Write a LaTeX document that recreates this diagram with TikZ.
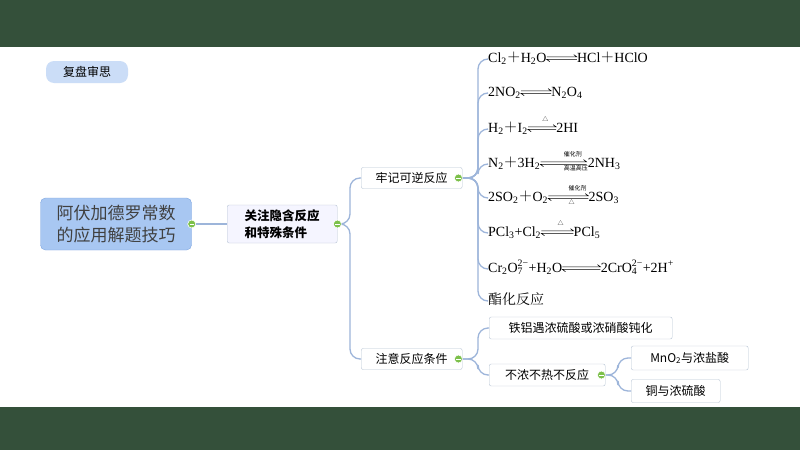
\documentclass[tikz,border=0pt]{standalone}
\usepackage{fontspec}
\setmainfont{Liberation Serif}
\newfontfamily\cjk{Noto Sans CJK SC}
\newfontfamily\cjks{Noto Serif CJK SC}
\usetikzlibrary{calc}
\definecolor{band}{HTML}{34503A}
\definecolor{link}{HTML}{9DB5DA}
\definecolor{rootf}{HTML}{A8C7F2}
\definecolor{rootd}{HTML}{7FA6E0}
\definecolor{boxd}{HTML}{B8C4D4}
\definecolor{minus}{HTML}{7CC04A}
\newcommand\rv[3]{\tikz[baseline=-0.6ex,x=1pt,y=1pt,line width=0.6pt]{%
\draw (0,1.3)--(#1,1.3)--++(-3,2.2);
\draw (#1,-1.3)--(0,-1.3)--++(3,-2.2);
\path (#1/2,7) node[font=\cjk\fontsize{6}{6}\selectfont,inner sep=0]{#2};
\path (#1/2,-7) node[font=\cjk\fontsize{6}{6}\selectfont,inner sep=0]{#3};}}
\newcommand\sub[1]{\textsubscript{#1}}
\newcommand\supb[1]{\textsuperscript{#1}}
\newcommand\pl{{\cjks ＋}}
\newcommand\subsup[2]{\rlap{\textsubscript{#1}}\textsuperscript{#2}}
\begin{document}
\begin{tikzpicture}[x=1pt,y=-1pt,
  box/.style={draw=boxd,fill=white,rounded corners=2pt,font=\cjk\fontsize{12}{14}\selectfont,inner sep=4pt,anchor=west},
  eq/.style={font=\fontsize{14}{16}\selectfont,inner sep=0,anchor=base west},
  ln/.style={draw=link,line width=1.3pt,rounded corners=10pt},
  mn/.style={circle,fill=minus,draw=white,line width=0.6pt,inner sep=0,minimum size=8pt,
    path picture={\draw[white,line width=1pt] ($(path picture bounding box.center)+(-2.2pt,0)$)--++(4.4pt,0);}}]
\useasboundingbox (0,0) rectangle (800,450);
\fill[white] (0,0) rectangle (800,450);
\fill[band] (0,0) rectangle (800,47);
\fill[band] (0,407) rectangle (800,450);
\node[fill=rootf!60,rounded corners=8pt,font=\cjk\fontsize{12}{14}\selectfont,minimum width=82pt,minimum height=22pt] (tag) at (87,72) {复盘审思};
% root
\node[fill=rootf,draw=rootd,rounded corners=5pt,font=\cjk\fontsize{17}{22}\selectfont,align=center,minimum width=151pt,minimum height=52pt,text=black!75] (root) at (116,224) {阿伏加德罗常数\\的应用解题技巧};
\node[box,fill=blue!4,align=left,font=\cjk\bfseries\fontsize{12.5}{17}\selectfont,minimum height=38pt,minimum width=110pt] (n2) at (227,224) {关注隐含反应\\和特殊条件};
\node[box,minimum width=101pt,minimum height=21pt] (n3) at (361,178) {牢记可逆反应};
\node[box,minimum width=101pt,minimum height=21pt] (n4) at (361,359) {注意反应条件};
\node[box,minimum width=183pt,minimum height=22pt] (n5) at (489,328) {铁铝遇浓硫酸或浓硝酸钝化};
\node[box,minimum width=116pt,minimum height=22pt] (n6) at (489,375) {不浓不热不反应};
\node[box,minimum width=117pt,minimum height=24pt] (n7) at (631,358) {MnO\sub{2}与浓盐酸};
\node[box,minimum width=89pt,minimum height=23pt] (n8) at (631,391) {铜与浓硫酸};
% equations
\node[eq] (e1) at (488,62) {Cl\sub{2}\pl H\sub{2}O\rv{30}{}{}HCl\pl HClO};
\node[eq] (e2) at (488,96) {2NO\sub{2}\rv{30}{}{}N\sub{2}O\sub{4}};
\node[eq] (e3) at (488,132) {H\sub{2}\pl I\sub{2}\rv{28}{△}{}2HI};
\node[eq] (e4) at (488,167) {N\sub{2}\pl 3H\sub{2}\rv{46}{催化剂}{高温高压}2NH\sub{3}};
\node[eq] (e5) at (488,201) {2SO\sub{2}\pl O\sub{2}\rv{40}{催化剂}{△}2SO\sub{3}};
\node[eq] (e6) at (488,236) {PCl\sub{3}+Cl\sub{2}\rv{32}{△}{}PCl\sub{5}};
\node[eq] (e7) at (488,272) {Cr\sub{2}O\subsup{7}{2−}+H\sub{2}O\rv{38}{}{}2CrO\subsup{4}{2−}+2H\supb{+}};
\node[eq,font=\cjks\fontsize{14}{16}\selectfont] (e8) at (488,304) {酯化反应};
% connectors
\draw[ln] (root.east) -- (n2.west);
\foreach \c in {n3,n4} \draw[ln] (n2.east) -- (350,224) |- (\c.west);
\foreach \c in {e1,e2,e3,e4,e5,e6,e7,e8} \draw[ln] (n3.east) -- (478,178) |- ($(\c.base west)+(0,-3)$);
\foreach \c in {n5,n6} \draw[ln] (n4.east) -- (478,359) |- (\c.west);
\foreach \c in {n7,n8} \draw[ln] (n6.east) -- (618,375) |- (\c.west);
\node[mn] (m1) at (root.east) {};
\node[mn] (m2) at (n2.east) {};
\node[mn] (m3) at ([xshift=-4pt]n3.east) {};
\node[mn] (m4) at ([xshift=-4pt]n4.east) {};
\node[mn] (m6) at ([xshift=-4pt]n6.east) {};
\end{tikzpicture}
\end{document}
